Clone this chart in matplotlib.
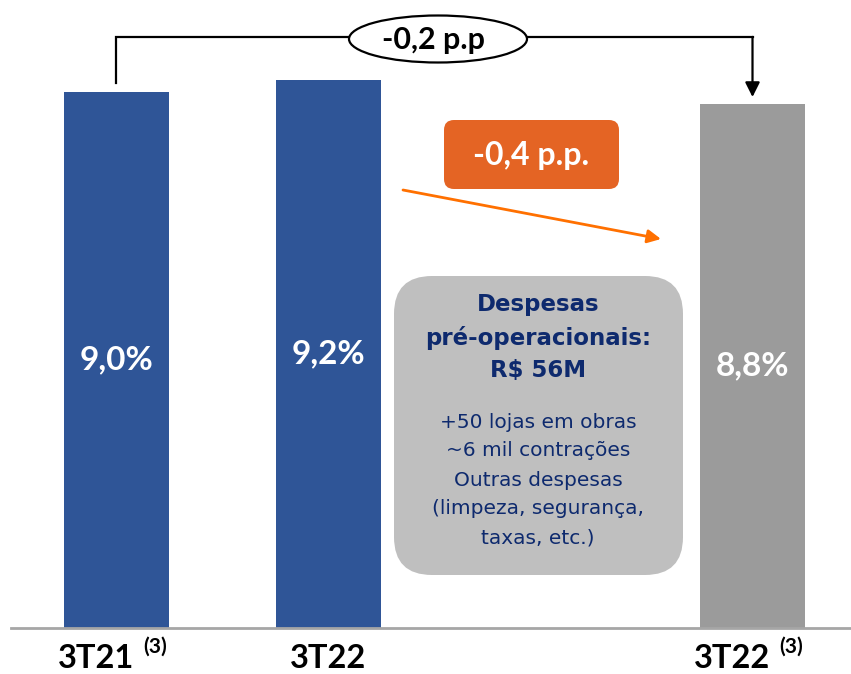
import matplotlib.pyplot as plt
from matplotlib.patches import Ellipse, FancyBboxPatch

# data
categories = ["3T21", "3T22", "3T22"]
superscripts = ["(3)", "", "(3)"]
positions = [0, 1, 3]
values = [9.0, 9.2, 8.8]
value_labels = ["9,0%", "9,2%", "8,8%"]
colors = ["#2F5597", "#2F5597", "#9B9B9B"]

delta_total = "-0,2 p.p"
delta_pre = "-0,4 p.p."
box_title = ["Despesas", "pré-operacionais:", "R$ 56M"]
box_lines = ["+50 lojas em obras", "~6 mil contrações", "Outras despesas",
             "(limpeza, segurança,", "taxas, etc.)"]

plt.rcParams['font.family'] = ['Lato', 'DejaVu Sans']

fig = plt.figure(figsize=(8.51, 6.74), dpi=100)
ax = fig.add_axes([0, 46 / 674, 1, 628 / 674])
ax.set_xlim(-0.5495, 3.4646)
ax.set_ylim(0, 10.55)
ax.axis("off")

ax.bar(positions, values, width=0.495, color=colors, zorder=2)
ax.plot([-0.498, 3.5], [0, 0], color="#A6A6A6", lw=2, clip_on=False, zorder=3)

for x, v, lab in zip(positions, values, value_labels):
    ax.text(x, v / 2, lab, ha="center", va="center", color="white",
            fontsize=24, fontweight="bold", zorder=4)

# category labels, with superscript note where present
for x, cat, sup in zip(positions, categories, superscripts):
    if sup:
        ax.annotate(cat, xy=(x, 0), xytext=(13, -22), textcoords="offset points",
                    ha="right", va="center", fontsize=23.5, fontweight="bold",
                    color="black", annotation_clip=False)
        ax.annotate(sup, xy=(x, 0), xytext=(19, -13.5), textcoords="offset points",
                    ha="left", va="center", fontsize=15, fontweight="bold",
                    color="black", annotation_clip=False)
    else:
        ax.annotate(cat, xy=(x, 0), xytext=(0, -22), textcoords="offset points",
                    ha="center", va="center", fontsize=23.5, fontweight="bold",
                    color="black", annotation_clip=False)

# bracket from first bar to last bar
top = 9.93
ax.plot([positions[0], positions[0], positions[2]], [values[0] + 0.16, top, top],
        color="black", lw=1.6, zorder=2, solid_joinstyle="miter")
ax.annotate("", xy=(positions[2], values[2] + 0.12), xytext=(positions[2], top),
            arrowprops=dict(arrowstyle="-|>", color="black", lw=1.6,
                            mutation_scale=22, shrinkA=0, shrinkB=0))

# overlay in pixel coordinates for the callouts
ov = fig.add_axes([0, 0, 1, 1])
ov.set_xlim(0, 851)
ov.set_ylim(674, 0)
ov.axis("off")
ov.patch.set_alpha(0)

ov.add_patch(Ellipse((438, 39), 178, 47, fc="white", ec="black", lw=1.6, zorder=3))
ov.text(434, 40, delta_total, ha="center", va="center", fontsize=22,
        fontweight="bold", color="black", zorder=4)

ov.add_patch(FancyBboxPatch((444, 120), 175, 69,
                            boxstyle="round,pad=0,rounding_size=10",
                            fc="#E46424", ec="none", zorder=3))
ov.text(531, 156, delta_pre, ha="center", va="center", fontsize=23,
        fontweight="bold", color="white", zorder=4)
ov.annotate("", xy=(661, 239), xytext=(403, 190),
            arrowprops=dict(arrowstyle="-|>", color="#FF7000", lw=2,
                            mutation_scale=20, shrinkA=0, shrinkB=0))

ov.add_patch(FancyBboxPatch((394, 276), 289, 299,
                            boxstyle="round,pad=0,rounding_size=38",
                            fc="#BFBFBF", ec="none", zorder=3))
navy = "#0E2A6E"
for i, t in enumerate(box_title):
    ov.text(538, 305 + i * 32.5, t, ha="center", va="center", fontsize=16.5,
            fontweight="bold", color=navy, family=["DejaVu Sans"], zorder=4)
for i, t in enumerate(box_lines):
    ov.text(538, 422 + i * 29, t, ha="center", va="center", fontsize=14.5,
            color=navy, family=["DejaVu Sans"], zorder=4)

fig.savefig("out.png", dpi=100)
